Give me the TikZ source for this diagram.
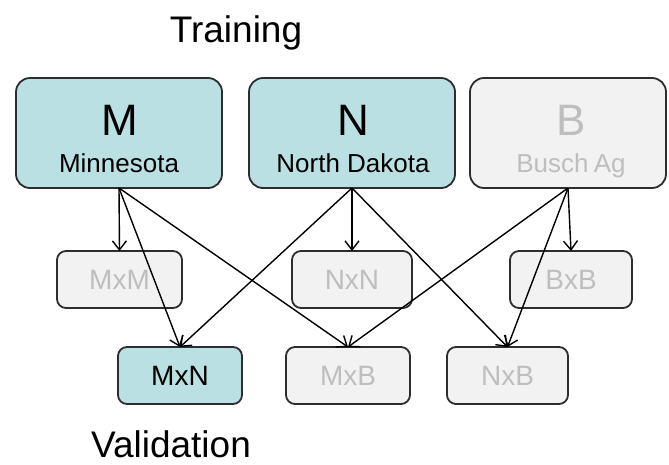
\documentclass[tikz,border=0pt]{standalone}
\usepackage{fontspec}
\setmainfont{Liberation Sans}
\usetikzlibrary{arrows.meta}

\definecolor{boxteal}{RGB}{187,224,227}
\definecolor{boxgray}{RGB}{242,242,242}
\definecolor{boxline}{RGB}{45,45,45}
\definecolor{mutedtext}{RGB}{190,190,190}

\tikzset{
  box/.style={draw=boxline, line width=1.8pt, inner sep=0pt, outer sep=0pt},
  bigbox/.style={box, rounded corners=14pt, minimum height=110pt},
  smallbox/.style={box, rounded corners=9pt, minimum height=57pt,
    font=\fontsize{28}{28}\selectfont},
  live/.style={fill=boxteal, text=black},
  muted/.style={fill=boxgray, text=mutedtext},
  bigletter/.style={anchor=base, inner sep=0pt, font=\fontsize{44}{44}\selectfont},
  placename/.style={anchor=base, inner sep=0pt, font=\fontsize{26}{26}\selectfont},
  heading/.style={anchor=base, inner sep=0pt, font=\fontsize{37}{37}\selectfont},
  link/.style={draw=black, line width=1.4pt,
    -{Straight Barb[length=9pt,width=14pt,line width=1.4pt]}},
}

\begin{document}
\begin{tikzpicture}[x=1pt, y=-1pt]
  \useasboundingbox (0,0) rectangle (669,464);

  % headings
  \node[heading] (train) at (236,42) {Training};
  \node[heading] (valid) at (171,457) {Validation};

  % training sites
  \node[bigbox, live,  minimum width=206pt] (M) at (119,133) {};
  \node[bigbox, live,  minimum width=206pt] (N) at (352,133) {};
  \node[bigbox, muted, minimum width=196pt] (B) at (568,133) {};

  \node[bigletter, text=black] (Ml) at (120,135) {M};
  \node[placename, text=black] (Mn) at (119,172) {Minnesota};
  \node[bigletter, text=black] (Nl) at (353,135) {N};
  \node[placename, text=black] (Nn) at (353,172) {North Dakota};
  \node[bigletter, text=mutedtext] (Bl) at (571,135) {B};
  \node[placename, text=mutedtext] (Bn) at (571,172) {Busch\hspace{-2pt} Ag};

  % same-site pairs
  \node[smallbox, muted, minimum width=125pt] (MxM) at (119.5,279.5) {MxM};
  \node[smallbox, muted, minimum width=120pt] (NxN) at (352,279.5) {NxN};
  \node[smallbox, muted, minimum width=122pt] (BxB) at (571,279.5) {BxB};

  % cross-site pairs
  \node[smallbox, live,  minimum width=124pt] (MxN) at (180,375.5) {MxN};
  \node[smallbox, muted, minimum width=124pt] (MxB) at (348,375.5) {MxB};
  \node[smallbox, muted, minimum width=121pt] (NxB) at (507.5,375.5) {NxB};

  % connectors
  \draw[link] (M.south) -- (MxM.north);
  \draw[link] (M.south) -- (MxN.north);
  \draw[link] (M.south) -- (MxB.north);

  \draw[link] (N.south) -- (NxN.north);
  \draw[link] (N.south) -- (MxN.north);
  \draw[link] (N.south) -- (NxB.north);

  \draw[link] (B.south) -- (BxB.north);
  \draw[link] (B.south) -- (MxB.north);
  \draw[link] (B.south) -- (NxB.north);
\end{tikzpicture}
\end{document}
